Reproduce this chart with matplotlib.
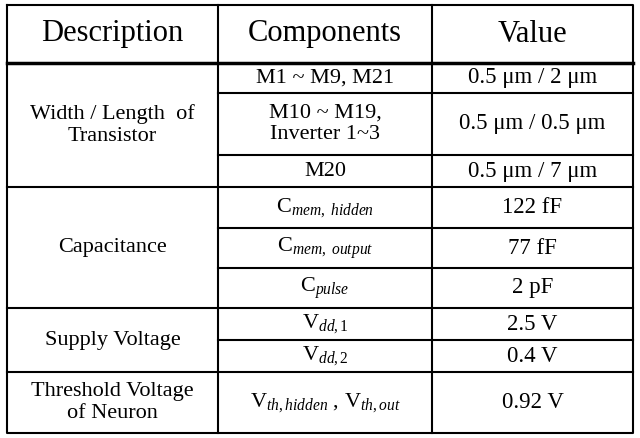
import matplotlib
matplotlib.use("Agg")
import matplotlib.pyplot as plt

headers = ["Description", "Components", "Value"]
groups = ["Width / Length  of\nTransistor", "Capacitance", "Supply Voltage", "Threshold Voltage\nof Neuron"]
components = ["M1 ~ M9, M21", "M10 ~ M19,\nInverter 1~3", "M20",
              r"C$_{\it{mem,\ hidden}}$", r"C$_{\it{mem,\ output}}$", r"C$_{\it{pulse}}$",
              r"V$_{\it{dd,1}}$", r"V$_{\it{dd,2}}$", r"V$_{\it{th,hidden}}$ , V$_{\it{th,out}}$"]
values = ["0.5 μm / 2 μm", "0.5 μm / 0.5 μm", "0.5 μm / 7 μm", "122 fF", "77 fF", "2 pF",
          "2.5 V", "0.4 V", "0.92 V"]
group_rows = [(0, 3), (3, 6), (6, 8), (8, 9)]

plt.rcParams['font.family'] = ['Liberation Serif', 'DejaVu Serif']
plt.rcParams['mathtext.fontset'] = 'custom'
plt.rcParams['mathtext.rm'] = 'Liberation Serif'
plt.rcParams['mathtext.it'] = 'Liberation Serif:italic'

fig = plt.figure(figsize=(6.4, 4.38), dpi=100)
ax = fig.add_axes([0, 0, 1, 1])
ax.set_xlim(0, 640); ax.set_ylim(438, 0); ax.axis('off')

x0, x1, x2, x3 = 7, 218, 432, 633
ytop, yhead = 5, 63
row_edges = [63, 93, 155, 187, 228, 268, 308, 340, 372, 433]
lw = 1.5
ax.plot([x0, x3, x3, x0, x0], [ytop, ytop, 433, 433, ytop], color='black', lw=lw)
ax.plot([x1, x1], [ytop, 433], color='black', lw=lw)
ax.plot([x2, x2], [ytop, 433], color='black', lw=lw)
ax.plot([x0, x3], [yhead, yhead], color='black', lw=2.5)
gbounds = {row_edges[e] for _, e in group_rows}
for y in row_edges[1:-1]:
    xs = x0 if y in gbounds else x1
    ax.plot([xs, x3], [y, y], color='black', lw=lw)

for t, xc in zip(headers, [(x0+x1)/2, (x1+x2)/2, (x2+x3)/2]):
    ax.text(xc, 34, t, ha='center', va='center', fontsize=22)
for i, (c, v) in enumerate(zip(components, values)):
    yc = (row_edges[i] + row_edges[i+1]) / 2
    ax.text((x1+x2)/2, yc, c, ha='center', va='center', fontsize=16, linespacing=1.2)
    ax.text((x2+x3)/2, yc, v, ha='center', va='center', fontsize=16.5)
for g, (s, e) in zip(groups, group_rows):
    yc = (row_edges[s] + row_edges[e]) / 2
    ax.text((x0+x1)/2, yc, g, ha='center', va='center', fontsize=16, linespacing=1.2)

fig.savefig("out.png", dpi=100)
